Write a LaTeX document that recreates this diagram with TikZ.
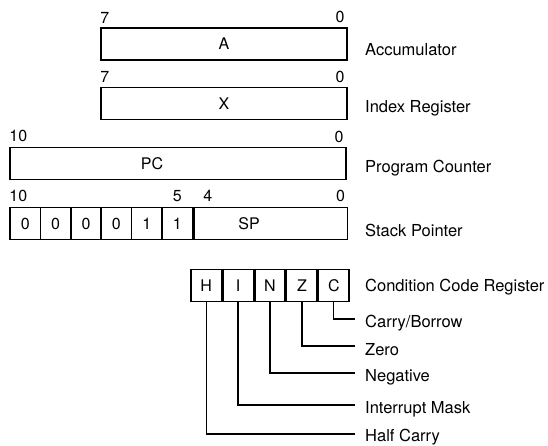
\documentclass[tikz,border=0pt]{standalone}
\usepackage{fontspec}
\setmainfont{TeX Gyre Heros}
\usetikzlibrary{positioning}

\begin{document}
\begin{tikzpicture}[x=1pt, y=-1pt]
\tikzset{
  reg/.style={draw, line width=1.5pt, inner sep=0pt, minimum height=32pt, font=\fontsize{16}{16}\selectfont},
  bitbox/.style={reg, minimum width=30.4pt},
  num/.style={inner sep=0pt, font=\fontsize{16}{16}\selectfont},
  lbl/.style={anchor=west, inner sep=0pt, font=\fontsize{16.5}{16.5}\selectfont},
  wire/.style={line width=1.3pt}
}
\useasboundingbox (0,0) rectangle (548,446);

% accumulator and index register
\node[reg, minimum width=246pt] (a) at (224,44) {A};
\node[num, anchor=south west] (a7) at ([yshift=4pt]a.north west) {7};
\node[num, anchor=south east] (a0) at ([xshift=-3pt,yshift=4pt]a.north east) {0};
\node[lbl] (acc) at (365,50) {Accumulator};

\node[reg, minimum width=246pt] (x) at (224,103.5) {X};
\node[num, anchor=south west] (x7) at ([yshift=4pt]x.north west) {7};
\node[num, anchor=south east] (x0) at ([xshift=-3pt,yshift=4pt]x.north east) {0};
\node[lbl] (idx) at (365,108) {Index Register};

% program counter
\node[reg, minimum width=336pt] (pc) at (178,163.5) {};
\node[num] (pctxt) at (152,163.5) {PC};
\node[num, anchor=south west] (pc10) at ([yshift=5pt]pc.north west) {10};
\node[num, anchor=south east] (pc0) at ([xshift=-3pt,yshift=4pt]pc.north east) {0};
\node[lbl] (prog) at (365,168) {Program Counter};

% stack pointer
\foreach \v [count=\i] in {0,0,0,0,1,1}
  \node[bitbox] (s\i) at (25.2+\i*30.4-30.4,223.5) {\v};
\node[reg, minimum width=153.6pt, right=0pt of s6] (sp) {};
\node[num] (sptxt) at (249,223.5) {SP};
\node[num, anchor=south west] (sp10) at ([yshift=5pt]s1.north west) {10};
\node[num, anchor=south] (sp5) at ([yshift=5pt]s6.north) {5};
\node[num, anchor=south west] (sp4) at ([xshift=10pt,yshift=5pt]sp.north west) {4};
\node[num, anchor=south east] (sp0) at ([xshift=-3pt,yshift=5pt]sp.north east) {0};
\node[lbl] (stk) at (365,230) {Stack Pointer};

% condition code register
\node[bitbox] (h) at (206.2,285.5) {H};
\node[bitbox, right=0pt of h] (i) {I};
\node[bitbox, right=0pt of i] (n) {N};
\node[bitbox, right=0pt of n] (z) {Z};
\node[bitbox, right=0pt of z] (c) {C};
\node[lbl] (ccr) at (365,287) {Condition Code Register};

\node[lbl] (lc) at (365,323) {Carry/Borrow};
\node[lbl] (lz) at (365,350) {Zero};
\node[lbl] (ln) at (365,377) {Negative};
\node[lbl] (li) at (365,409) {Interrupt Mask};
\node[lbl] (lh) at (365,437) {Half Carry};

\draw[wire] (c.south) |- ([xshift=-10pt,yshift=4pt]lc.west);
\draw[wire] (z.south) |- ([xshift=-10pt,yshift=4pt]lz.west);
\draw[wire] (n.south) |- ([xshift=-10pt,yshift=4pt]ln.west);
\draw[wire] (i.south) |- ([xshift=-10pt,yshift=4pt]li.west);
\draw[wire] (h.south) |- ([xshift=-10pt,yshift=3pt]lh.west);
\end{tikzpicture}
\end{document}
